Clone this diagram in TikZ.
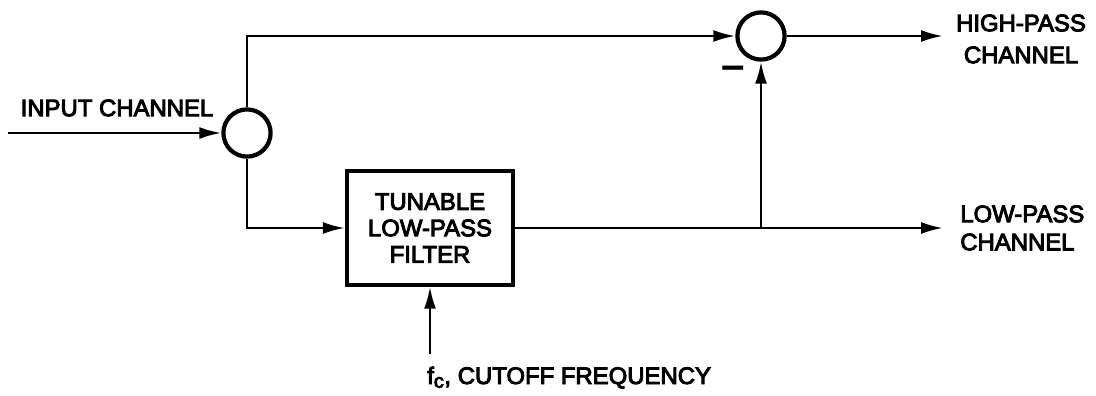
\documentclass[tikz,border=0pt]{standalone}
\usepackage{fontspec}
\setmainfont{Liberation Sans}
\newfontfamily\medfont[FakeBold=4]{Liberation Sans}
\usetikzlibrary{positioning}
\usetikzlibrary{arrows.meta}

\tikzset{
  wire/.style={line width=1.8pt},
  sumnode/.style={draw, circle, line width=3pt, minimum size=1.18cm, inner sep=0pt},
  filterbox/.style={draw, rectangle, line width=3pt, minimum width=4.15cm,
    minimum height=2.83cm, align=center, font=\medfont\fontsize{17}{18.8}\selectfont},
  chantext/.style={font=\medfont\fontsize{17}{20}\selectfont, inner sep=0pt},
  >={Latex[length=0.55cm,width=0.3cm]}
}

\begin{document}
\begin{tikzpicture}[x=0.025cm, y=-0.025cm]

\useasboundingbox (0,0) rectangle (1096,395);

%---------------------------------------
% Blocks
%---------------------------------------
\node[sumnode] (split) at (247,133) {};
\node[sumnode] (sum) at (761,36) {};
\node[filterbox] (filter) at (430,228) {TUNABLE\\LOW-PASS\\FILTER};

% free ends and corners
\coordinate (in)    at (8,133);
\coordinate (topc)  at (247,36);
\coordinate (botc)  at (247,228);
\coordinate (tap)   at (761,228);
\coordinate (hpout) at (943,36);
\coordinate (lpout) at (943,228);
\coordinate (fcin)  at (430,354);

%---------------------------------------
% Connectors
%---------------------------------------
\draw[wire, ->] (in) -- (split.west);
\draw[wire, ->] (split.north) -- (topc) -- (sum.west);
\draw[wire, ->] (split.south) -- (botc) -- (filter.west);
\draw[wire, ->] (filter.east) -- (lpout);
\draw[wire, ->] (tap) -- (sum.south);
\draw[wire, ->] (sum.east) -- (hpout);
\draw[wire, ->] (fcin) -- (filter.south);

%---------------------------------------
% Labels
%---------------------------------------
\node[chantext] (inlabel) at (117,108) {INPUT CHANNEL};
\node[chantext, align=center, font=\medfont\fontsize{17}{22.7}\selectfont]
  (hplabel) at (1021,39) {HIGH-PASS\\CHANNEL};
\node[chantext, align=left, anchor=west] (lplabel) at (960,228) {LOW-PASS\\CHANNEL};
\node[chantext, anchor=base west] (fclabel) at (427,384)
  {f\textsubscript{\fontsize{14}{14}\selectfont c}, CUTOFF FREQUENCY};
\node[inner sep=0pt, font=\bfseries\fontsize{30}{30}\selectfont] (minus) at (733,73) {–};

\end{tikzpicture}
\end{document}
